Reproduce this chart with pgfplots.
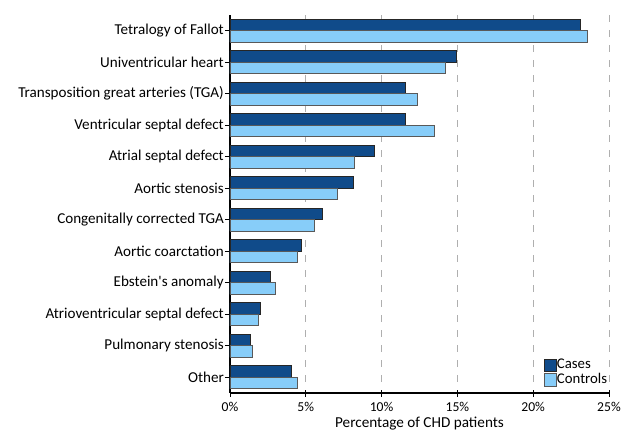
\documentclass[border=0pt]{standalone}
\usepackage{fontspec}
\setmainfont{Carlito}
\usepackage{pgfplots}
\pgfplotsset{compat=1.18}
\usepackage{pgfplotstable}
\definecolor{darkbar}{RGB}{16,75,138}
\definecolor{lightbar}{RGB}{135,205,249}
\definecolor{gridgray}{RGB}{175,175,175}
\pgfplotstableread{
idx cases controls
0 23.13 23.60
1 14.95 14.22
2 11.55 12.36
3 11.55 13.48
4 9.52 8.22
5 8.16 7.08
6 6.11 5.59
7 4.73 4.46
8 2.68 2.97
9 2.02 1.85
10 1.34 1.47
11 4.07 4.46
}\datatable
\begin{document}
\begin{tikzpicture}
\begin{axis}[
  name=ax,
  scale only axis,
  width=379bp, height=378bp,
  xbar,
  bar width=0.365,
  xmin=0, xmax=25,
  ymin=-0.5, ymax=11.5,
  y dir=reverse,
  axis lines*=left,
  axis line style={line width=1.1bp, black},
  xtick={0,5,10,15,20,25},
  ytick={0,...,11},
  yticklabels={Tetralogy of Fallot, Univentricular heart, Transposition great arteries (TGA), Ventricular septal defect, Atrial septal defect, Aortic stenosis, Congenitally corrected TGA, Aortic coarctation, Ebstein\textquotesingle s anomaly, Atrioventricular septal defect, Pulmonary stenosis, Other},
  /pgf/number format/assume math mode=true,
  xticklabel={\pgfmathprintnumber{\tick}\%},
  tick align=outside,
  major tick length=5bp,
  xtick style={black, line width=0.8bp, yshift=3.5bp, /pgfplots/major tick length=7bp},
  ytick style={black, line width=0.8bp},
  xticklabel style={font=\fontsize{13.6bp}{15bp}\selectfont, yshift=-0.5bp},
  yticklabel style={font=\fontsize{15.1bp}{17bp}\selectfont, inner sep=1bp},
  xlabel={Percentage of CHD patients},
  xlabel style={font=\fontsize{15.2bp}{17bp}\selectfont, yshift=1.5bp},
  xmajorgrids,
  major grid style={gridgray, line width=0.9bp, dash pattern=on 7bp off 8bp},
  legend style={draw=none, fill=none, inner sep=0pt, row sep=1.2bp,
    at={(0.997,0.016)}, anchor=south east,
    font=\fontsize{14.8bp}{16bp}\selectfont,
    nodes={inner sep=0.5bp, text height=10bp, text depth=2.3bp}},
  legend cell align=left,
  legend image code/.code={\draw[#1] (0bp,-6.5bp) rectangle (12bp,6bp);},
]
\addplot[fill=darkbar, draw=black!85, line width=0.8bp, bar shift=-0.1825] table[x=cases, y=idx] {\datatable};
\addplot[fill=lightbar, draw=black!65, line width=0.8bp, bar shift=0.1825] table[x=controls, y=idx] {\datatable};
\legend{Cases, Controls}
\end{axis}
\path ([shift={(-230bp,-37bp)}]ax.south west) rectangle ([shift={(19bp,15bp)}]ax.north east);
\end{tikzpicture}
\end{document}
